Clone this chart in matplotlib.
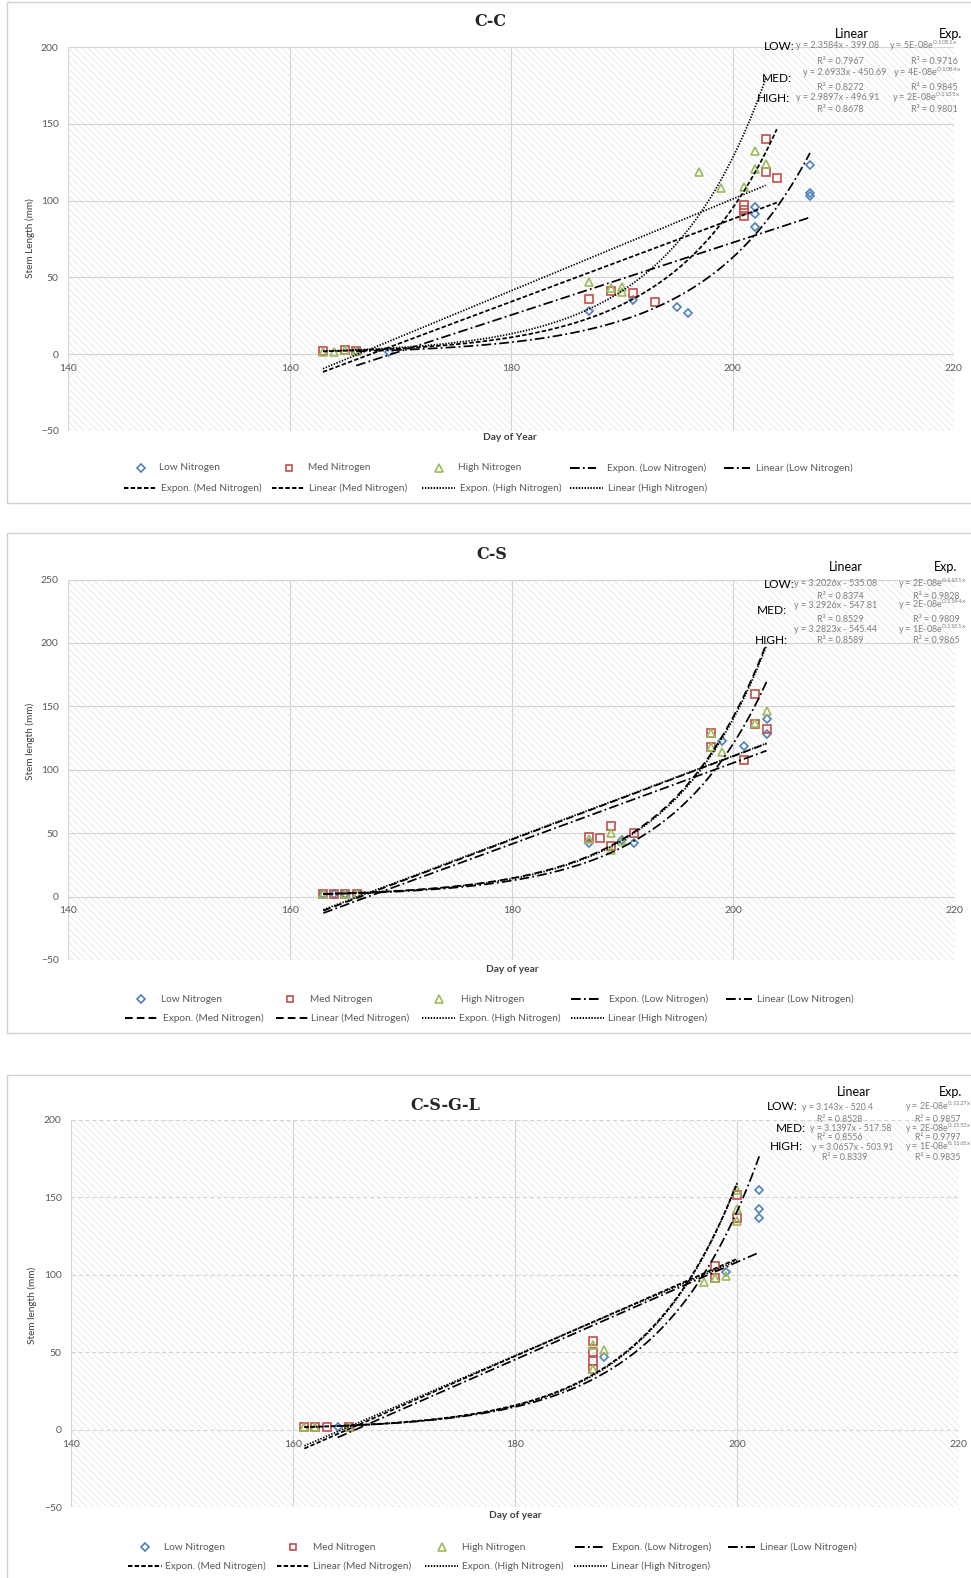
import numpy as np
import matplotlib
matplotlib.use('Agg')
import matplotlib.pyplot as plt
from matplotlib.patches import Rectangle
from matplotlib.lines import Line2D

plt.rcParams['font.family'] = ['Lato', 'DejaVu Sans']
plt.rcParams['hatch.linewidth'] = 0.4
plt.rcParams['mathtext.default'] = 'regular'
plt.rcParams['lines.scale_dashes'] = False

W, H = 971, 1578
fig = plt.figure(figsize=(W / 100, H / 100), dpi=100)

def fx(x):
    return x / W

def fy(y):
    return 1 - y / H

# ------------------------------------------------------------------ data
# C-C
cc_low_day = [166, 169, 187, 191, 195, 196, 202, 202, 202, 207, 207, 207]
cc_low_len = [2, 1, 28, 35, 30.5, 26.5, 96, 91, 82.5, 123, 105, 103]
cc_med_day = [163, 165, 166, 187, 189, 191, 193, 201, 201, 201, 203, 203, 204]
cc_med_len = [2, 2.5, 2, 36, 41, 39.5, 34, 97, 94, 90, 140, 118.5, 114.5]
cc_high_day = [163, 164, 165, 166, 187, 189, 190, 190, 197, 199, 201, 202, 202, 203]
cc_high_len = [1.5, 1.5, 2.5, 2, 47, 43, 44, 40.5, 119, 108.5, 109, 132.5, 120.5, 124]
cc_lin_slope = [2.3584, 2.6933, 2.9897]
cc_lin_icpt = [-399.08, -450.69, -496.91]
cc_exp_a = [4.67e-8, 3.65e-8, 1.77e-8]
cc_exp_b = [0.1051, 0.1084, 0.1135]
cc_exp_a_label = ["5E-08", "4E-08", "2E-08"]
cc_r2_lin = ["0.7967", "0.8272", "0.8678"]
cc_r2_exp = ["0.9716", "0.9845", "0.9801"]

# C-S
cs_low_day = [163, 164, 165, 166, 187, 190, 191, 199, 201, 203, 203]
cs_low_len = [2, 2, 2, 2, 42, 44.5, 42, 123, 118.5, 140, 128.5]
cs_med_day = [163, 164, 165, 166, 187, 188, 189, 189, 191, 198, 198, 201, 202, 202, 203]
cs_med_len = [2, 2, 2, 2, 47, 46, 56, 40, 50, 129, 118, 108, 159.5, 136, 132]
cs_high_day = [163, 165, 166, 187, 189, 189, 190, 198, 198, 199, 202, 203]
cs_high_len = [2, 2, 2, 45, 50, 36.5, 44, 129, 118, 114, 136.5, 146]
cs_lin_slope = [3.2026, 3.2926, 3.2823]
cs_lin_icpt = [-535.08, -547.81, -545.44]
cs_exp_a = [1.81e-8, 1.64e-8, 1.41e-8]
cs_exp_b = [0.1131, 0.1144, 0.1151]
cs_exp_a_label = ["2E-08", "2E-08", "1E-08"]
cs_r2_lin = ["0.8374", "0.8529", "0.8589"]
cs_r2_exp = ["0.9828", "0.9809", "0.9865"]

# C-S-G-L
csgl_low_day = [164, 188, 199, 202, 202, 202]
csgl_low_len = [2, 47, 102, 154.5, 142.5, 136.5]
csgl_med_day = [161, 162, 163, 165, 187, 187, 187, 187, 198, 198, 200, 200]
csgl_med_len = [2, 2, 2, 2, 57, 50, 44.5, 39.5, 106, 98, 151.5, 136.5]
csgl_high_day = [161, 162, 165, 187, 187, 188, 197, 198, 199, 200, 200, 200]
csgl_high_len = [2, 2, 2, 55, 39, 51.5, 95.5, 98, 99, 154.5, 142.5, 134.5]
csgl_lin_slope = [3.143, 3.1397, 3.0657]
csgl_lin_icpt = [-520.4, -517.58, -503.91]
csgl_exp_a = [2.29e-8, 1.54e-8, 1.21e-8]
csgl_exp_b = [0.1127, 0.1153, 0.1165]
csgl_exp_a_label = ["2E-08", "2E-08", "1E-08"]
csgl_r2_lin = ["0.8528", "0.8556", "0.8339"]
csgl_r2_exp = ["0.9857", "0.9797", "0.9835"]

x_ticks = [140, 160, 180, 200, 220]
series_names = ["Low Nitrogen", "Med Nitrogen", "High Nitrogen"]

# ------------------------------------------------------------------ styles
COLORS = ['#4F81BD', '#C0504D', '#9BBB59']
MARKERS = [('D', 4.4), ('s', 5.6), ('^', 6.2)]
LOW_LS = (0, (7, 2.3, 1.3, 2.3))
MED_SHORT = (0, (3.2, 1.6))
MED_LONG = (0, (5.5, 3))
HIGH_LS = (0, (1.0, 1.1))
LW = 1.25
GRAY_TXT = '#595959'
EQ_TXT = '#7f7f7f'
EQ_FS = 6.5


def panel(rect_px, ylim, yticks, title, title_xy, xlabel, xlabel_xy, ylabel,
          ylabel_xy, days, lens, slopes, icpts, ea, eb, med_ls, grid_dashed):
    x0, x1, ytop, ybot = rect_px
    ax = fig.add_axes([fx(x0), fy(ybot), fx(x1) - fx(x0), fy(ytop) - fy(ybot)])
    ax.set_xlim(140, 220)
    ax.set_ylim(*ylim)
    ax.set_facecolor('white')
    ax.add_patch(Rectangle((0, 0), 1, 1, transform=ax.transAxes, facecolor='white',
                           edgecolor='#dcdcdc', hatch='\\\\\\\\\\', lw=0, zorder=0))
    gls = (0, (3, 2)) if grid_dashed else '-'
    for xv in x_ticks:
        ax.axvline(xv, color='#d4d4d4', lw=0.8, zorder=1)
    for yv in yticks:
        ax.axhline(yv, color='#d4d4d4', lw=0.8, ls=gls, zorder=1)
    for sp in ax.spines.values():
        sp.set_visible(False)
    ax.spines['bottom'].set_position(('data', 0))
    ax.set_xticks(x_ticks)
    ax.set_yticks(yticks)
    ax.tick_params(length=0, labelsize=7.5, labelcolor=GRAY_TXT)
    ax.tick_params(axis='y', pad=7)
    ax.tick_params(axis='x', pad=7)

    # scatter
    for i in range(3):
        m, ms = MARKERS[i]
        ax.plot(days[i], lens[i], ls='none', marker=m, ms=ms, mfc='none',
                mec=COLORS[i], mew=1.2, zorder=3, clip_on=False)
    # trendlines (Excel-style: over each series' range)
    styles = [LOW_LS, med_ls, HIGH_LS]
    for i in range(3):
        xs = np.linspace(min(days[i]), max(days[i]), 300)
        ax.plot(xs, ea[i] * np.exp(eb[i] * xs), color='black', lw=LW,
                ls=styles[i], zorder=4, clip_on=False, dash_capstyle='butt')
        ax.plot(xs, slopes[i] * xs + icpts[i], color='black', lw=LW,
                ls=styles[i], zorder=4, clip_on=False, dash_capstyle='butt')

    fig.text(fx(title_xy[0]), fy(title_xy[1]), title, ha='center', va='center',
             family='DejaVu Serif', weight='bold', fontsize=11.5, color='#262626')
    fig.text(fx(xlabel_xy[0]), fy(xlabel_xy[1]), xlabel, ha='center', va='center',
             weight='bold', fontsize=7.3, color='#404040')
    fig.text(fx(ylabel_xy[0]), fy(ylabel_xy[1]), ylabel, ha='center', va='center',
             rotation=90, fontsize=7.2, color='#404040')
    return ax


def frame(y0, y1):
    fig.add_artist(Rectangle((fx(7), fy(y1)), fx(990) - fx(7), fy(y0) - fy(y1),
                             transform=fig.transFigure, facecolor='none',
                             edgecolor='#d0d0d0', lw=1.0, zorder=0))


def legend(y1, y2, row1, row2, med_ls):
    styles = [LOW_LS, med_ls, HIGH_LS]
    for i, (mx, tx) in enumerate(row1[:3]):
        m, ms = MARKERS[i]
        fig.add_artist(Line2D([fx(mx)], [fy(y1)], transform=fig.transFigure, marker=m,
                              ms=ms * 0.85, mfc='none', mec=COLORS[i], mew=1.2, ls='none'))
        fig.text(fx(tx), fy(y1), series_names[i], ha='left', va='center',
                 fontsize=7.3, color=GRAY_TXT)
    entries = [(row1[3], y1, 0, "Expon. (Low Nitrogen)"),
               (row1[4], y1, 0, "Linear (Low Nitrogen)"),
               (row2[0], y2, 1, "Expon. (Med Nitrogen)"),
               (row2[1], y2, 1, "Linear (Med Nitrogen)"),
               (row2[2], y2, 2, "Expon. (High Nitrogen)"),
               (row2[3], y2, 2, "Linear (High Nitrogen)")]
    for (lx0, lx1, tx), yy, si, lab in entries:
        fig.add_artist(Line2D([fx(lx0), fx(lx1)], [fy(yy), fy(yy)], transform=fig.transFigure,
                              color='black', lw=LW + 0.2, ls=styles[si], dash_capstyle='butt'))
        fig.text(fx(tx), fy(yy), lab, ha='left', va='center', fontsize=7.3, color=GRAY_TXT)


def annotations(hdr_y, lin_c, exp_c, rows, lin_s, lin_i, a_lab, eb, r2l, r2e, fs=EQ_FS):
    fig.text(fx(lin_c), fy(hdr_y), "Linear", ha='center', va='center', fontsize=9, color='black')
    fig.text(fx(exp_c), fy(hdr_y), "Exp.", ha='center', va='center', fontsize=9, color='black')
    names = ["LOW:", "MED:", "HIGH:"]
    for i, r in enumerate(rows):
        (nx, ny), (lx, ly), (ex, ey), (rlx, rly), (rex, rey) = r
        fig.text(fx(nx), fy(ny), names[i], ha='left', va='center', fontsize=8.6, color='black')
        fig.text(fx(lx), fy(ly), "y = %sx - %s" % (str(lin_s[i]), str(abs(lin_i[i]))),
                 ha='left', va='center', fontsize=fs, color=EQ_TXT)
        fig.text(fx(ex), fy(ey), "y = %se$^{%sx}$" % (a_lab[i], str(eb[i])),
                 ha='left', va='center', fontsize=fs, color=EQ_TXT)
        fig.text(fx(rlx), fy(rly), "R² = %s" % r2l[i], ha='center', va='center',
                 fontsize=fs, color=EQ_TXT)
        fig.text(fx(rex), fy(rey), "R² = %s" % r2e[i], ha='center', va='center',
                 fontsize=fs, color=EQ_TXT)


# ------------------------------------------------------------------ panel 1
frame(2, 503)
panel((68.4, 953.9, 47.3, 430.7), (-50, 200), [-50, 0, 50, 100, 150, 200], "C-C", (490, 22),
      "Day of Year", (510, 438), "Stem Length (mm)", (30, 238),
      [cc_low_day, cc_med_day, cc_high_day], [cc_low_len, cc_med_len, cc_high_len],
      cc_lin_slope, cc_lin_icpt, cc_exp_a, cc_exp_b, MED_SHORT, False)
legend(468, 488,
       [(141, 159), (289, 308), (439, 458), (570, 596, 607), (724, 750, 756)],
       [(124, 157, 161), (272, 305, 309), (422, 455, 460), (570, 603, 608)], MED_SHORT)
annotations(34, 852, 951,
            [((764, 46), (796, 46), (889, 46), (840, 62), (934, 62)),
             ((762, 78), (803, 72.7), (893, 72.7), (840, 87.3), (934, 87.3)),
             ((757, 98.5), (796, 98), (892, 98), (840, 110), (934, 110))],
            cc_lin_slope, cc_lin_icpt, cc_exp_a_label, cc_exp_b, cc_r2_lin, cc_r2_exp)

# ------------------------------------------------------------------ panel 2
frame(533, 1033)
panel((68.4, 954.9, 579.6, 959.9), (-50, 250), [-50, 0, 50, 100, 150, 200, 250], "C-S", (492, 555),
      "Day of year", (512, 969), "Stem length (mm)", (30, 741),
      [cs_low_day, cs_med_day, cs_high_day], [cs_low_len, cs_med_len, cs_high_len],
      cs_lin_slope, cs_lin_icpt, cs_exp_a, cs_exp_b, MED_LONG, False)
legend(999, 1018,
       [(141, 161), (290, 310), (439, 461), (571, 600, 609), (726, 752, 757)],
       [(125, 159, 163), (276, 309, 311), (422, 455, 459), (571, 604, 608)], MED_LONG)
annotations(566.7, 846, 946,
            [((764, 584), (794, 584), (898, 584), (840, 596), (936, 596)),
             ((757, 611), (794, 605), (898, 605), (840, 619.3), (936, 619.3)),
             ((755, 641), (794, 630), (898, 630), (840, 640.5), (936, 640.5))],
            cs_lin_slope, cs_lin_icpt, cs_exp_a_label, cs_exp_b, cs_r2_lin, cs_r2_exp)

# ------------------------------------------------------------------ panel 3
frame(1075, 1600)
panel((71.4, 958.9, 1119.9, 1507.3), (-50, 200), [-50, 0, 50, 100, 150, 200], "C-S-G-L", (445, 1105),
      "Day of year", (515, 1515), "Stem length (mm)", (32, 1305),
      [csgl_low_day, csgl_med_day, csgl_high_day], [csgl_low_len, csgl_med_len, csgl_high_len],
      csgl_lin_slope, csgl_lin_icpt, csgl_exp_a, csgl_exp_b, MED_SHORT, True)
legend(1547, 1566,
       [(145, 164), (293, 313), (442, 462), (575, 604, 612), (728, 755, 760)],
       [(128, 162, 165), (277, 310, 313), (425, 458, 462), (574, 607, 611)], MED_SHORT)
annotations(1091.7, 854, 951,
            [((767, 1107), (802, 1107), (905, 1107), (840, 1119), (938, 1119)),
             ((776, 1129), (810, 1128.5), (905, 1128.5), (840, 1138), (938, 1138)),
             ((770, 1147), (812, 1147), (905, 1147), (845, 1157), (938, 1157))],
            csgl_lin_slope, csgl_lin_icpt, csgl_exp_a_label, csgl_exp_b, csgl_r2_lin, csgl_r2_exp,
            fs=6.3)

fig.savefig('out.png', dpi=100, facecolor='white')
